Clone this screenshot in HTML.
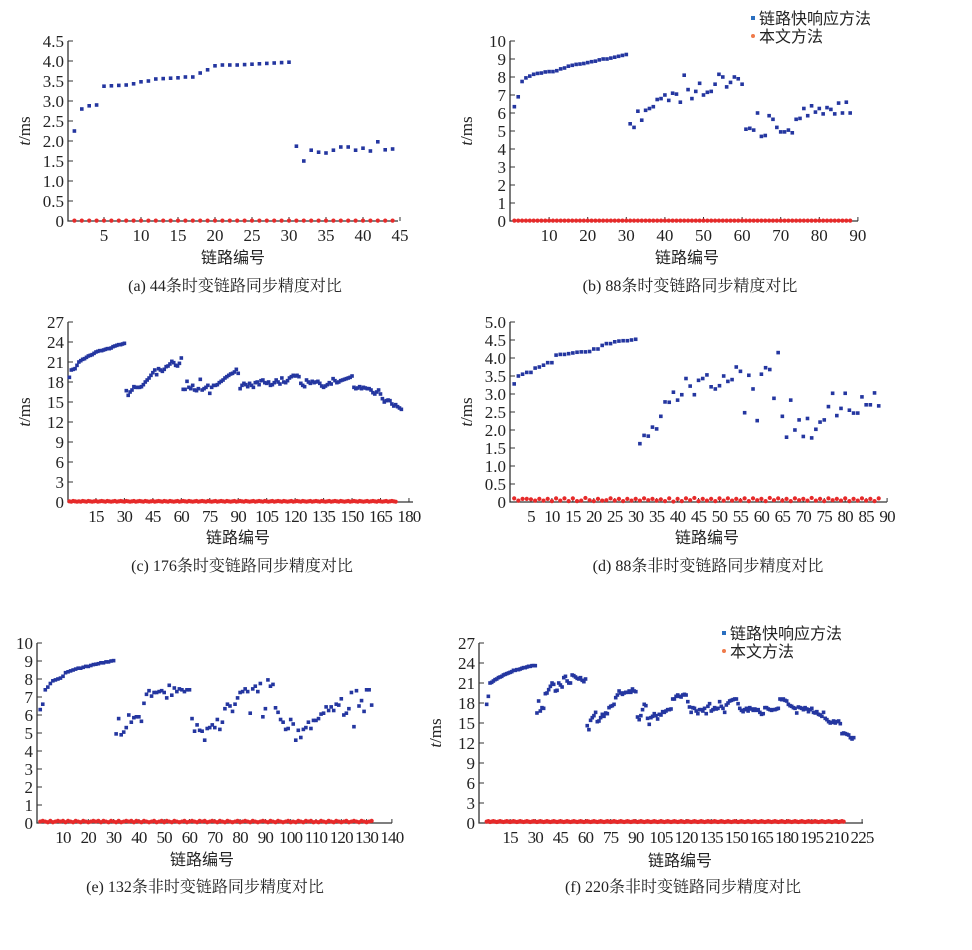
<!DOCTYPE html>
<html><head><meta charset="utf-8">
<style>
html,body{margin:0;padding:0;background:#fff;}
svg{display:block;}
.num{font-family:"Liberation Serif",serif;font-size:17px;fill:#222;}
.tight{letter-spacing:-0.8px;}
.zh{font-family:"Liberation Sans","Noto Sans CJK SC",sans-serif;font-size:16px;fill:#222;}
.cap{font-family:"Liberation Serif","Noto Serif CJK SC",serif;font-size:16px;fill:#222;}
</style></head>
<body>
<svg id="fig" width="972" height="950" viewBox="0 0 972 950" xmlns="http://www.w3.org/2000/svg"></svg>
<script>
// ---- data ----
const blueA=[2.25,2.8,2.88,2.9,3.37,3.38,3.39,3.4,3.43,3.48,3.5,3.55,3.56,3.57,3.58,3.6,3.6,3.7,3.78,3.88,3.9,3.9,3.9,3.91,3.92,3.93,3.94,3.95,3.96,3.97,1.87,1.5,1.77,1.72,1.7,1.77,1.85,1.85,1.77,1.82,1.75,1.98,1.78,1.8];
const redA="11111111111111111111111111111111111111111111";
const blueB=[6.35,6.9,7.75,7.95,8.05,8.15,8.2,8.22,8.28,8.3,8.3,8.35,8.45,8.5,8.6,8.65,8.7,8.72,8.75,8.8,8.85,8.88,8.95,9.0,9.0,9.05,9.1,9.15,9.2,9.25,5.4,5.2,6.1,5.6,6.15,6.25,6.35,6.75,6.8,7.0,6.7,7.1,7.05,6.6,8.1,7.3,6.8,7.2,7.65,7.0,7.15,7.2,7.6,8.15,8.0,7.45,7.7,8.0,7.9,7.6,5.1,5.15,5.05,6.0,4.7,4.75,5.85,5.65,5.2,4.95,4.95,5.05,4.9,5.65,5.7,6.25,5.85,6.4,6.05,6.25,5.95,6.3,6.2,5.95,6.55,6.0,6.6,6.0];
const redB="1111111111111111111111111111111111111111111111111111111111111111111111111111111111111111";
const blueC=[18.7,19.8,19.9,20.0,20.5,21.0,21.2,21.4,21.5,21.7,21.9,22.0,22.1,22.3,22.5,22.6,22.7,22.7,22.8,22.9,23.0,23.0,23.1,23.3,23.4,23.5,23.6,23.6,23.7,23.8,
16.7,16.0,16.5,16.8,17.3,17.2,17.2,17.2,17.3,17.6,18.0,18.3,18.6,19.0,19.4,19.8,19.1,20.0,19.8,19.6,19.9,20.3,20.4,20.7,21.1,20.9,20.5,20.4,20.8,21.6,
16.9,16.9,18.1,17.2,17.0,17.5,16.8,16.7,17.0,18.4,16.8,17.0,17.2,17.5,16.3,17.2,17.5,17.5,17.6,17.9,18.1,18.3,18.6,18.8,19.0,19.2,19.3,19.5,19.9,19.3,
17.0,17.5,17.8,17.6,17.3,17.8,17.5,17.2,17.9,18.0,17.6,18.2,18.3,17.9,17.8,18.0,17.5,17.6,17.9,18.3,18.0,17.7,18.6,18.0,17.9,18.2,18.6,18.8,19.0,18.9,
19.0,18.8,17.8,17.5,17.3,18.3,18.0,17.8,18.1,17.9,18.0,18.1,17.8,17.4,17.2,17.4,17.6,17.9,17.7,18.5,18.2,17.9,18.0,18.2,18.3,18.4,18.5,18.6,18.7,18.9,
17.2,17.0,17.1,17.3,17.0,17.2,17.1,17.0,17.0,16.8,16.4,16.2,16.5,16.8,16.2,15.5,15.0,15.2,15.3,15.2,14.7,14.4,14.6,14.3,14.1,13.9];
const redC="21321213213212312321321231232132123123213212312321321321231232132123123213212312321321231232132123123213212312321321231232132123123213212312321321231232132123123213212312321";
const blueD=[3.28,3.5,3.55,3.6,3.6,3.72,3.75,3.8,3.87,3.87,4.08,4.1,4.1,4.12,4.14,4.16,4.17,4.17,4.18,4.25,4.25,4.35,4.4,4.4,4.45,4.47,4.48,4.48,4.5,4.52,
1.62,1.85,1.83,2.08,2.03,2.38,2.78,2.77,3.05,2.83,2.98,3.43,3.22,2.98,3.38,3.43,3.53,3.2,3.14,3.23,3.5,3.35,3.4,3.75,3.63,2.48,3.52,3.14,2.26,3.55,3.73,3.68,2.88,4.15,2.38,1.8,2.83,2.0,2.28,1.82,2.32,1.78,2.02,2.22,2.28,2.65,3.02,2.4,2.6,3.02,2.55,2.47,2.47,2.92,2.7,2.7,3.03,2.67];
const redD="8377637372838282394273483727373847362817284927372838373828472948372847393728473827383728";
const blueE=[6.3,6.6,7.4,7.55,7.75,7.9,7.95,8.0,8.05,8.15,8.35,8.4,8.45,8.5,8.55,8.6,8.6,8.65,8.7,8.7,8.75,8.8,8.82,8.85,8.9,8.9,8.95,8.95,9.0,9.02,
4.95,5.8,4.9,5.05,5.3,6.0,5.6,5.85,5.9,5.9,5.65,6.65,7.15,7.35,7.05,7.25,7.25,7.3,7.35,7.25,6.95,7.65,7.1,7.5,7.3,7.45,7.4,7.3,7.4,7.4,
5.8,5.1,5.45,5.15,5.1,4.6,5.25,5.3,5.45,5.3,5.75,5.2,5.6,6.35,6.6,6.5,6.2,6.6,6.95,7.25,7.3,7.45,7.3,6.1,7.45,7.6,7.3,7.75,5.9,6.35,7.95,7.6,7.7,
6.4,6.15,5.75,5.6,5.2,5.25,5.75,5.5,4.6,5.15,4.75,5.2,5.3,5.6,5.25,5.7,5.7,5.8,6.05,6.1,6.45,6.25,6.45,6.25,6.6,6.55,6.9,6.0,6.1,6.35,7.25,5.35,7.35,6.5,6.8,6.2,7.4,7.4,6.55];
const redE="232131232313213213212323132132131232313213212312313213212312321323123213213212312321321232132132123121321323121321321321231232132123";
const blueF=[17.8,19.0,21.0,21.1,21.3,21.5,21.6,21.8,21.9,22.0,22.2,22.3,22.4,22.5,22.6,22.7,22.9,22.9,23.0,23.0,23.1,23.2,23.3,23.3,23.4,23.5,23.5,23.6,23.6,23.6,
16.5,18.3,16.8,17.3,17.2,19.4,19.5,20.0,20.5,21.0,20.8,19.8,19.9,21.0,20.7,20.4,21.8,22.0,21.3,21.0,21.0,22.2,22.1,21.9,21.7,21.6,21.8,21.4,21.2,21.6,
14.6,14.0,15.4,15.8,16.1,16.6,15.2,15.3,15.8,16.3,16.0,16.5,16.4,17.3,17.5,17.6,17.8,18.8,19.2,19.8,19.5,19.3,19.5,19.6,19.6,19.8,19.6,20.1,19.8,19.7,
15.9,15.5,16.1,17.0,17.8,17.6,15.7,14.8,15.8,16.0,16.4,16.1,15.6,16.3,16.2,16.7,16.6,16.8,17.0,17.0,17.1,18.6,18.6,19.0,19.2,19.0,18.9,19.2,19.3,19.2,
18.2,17.4,16.6,17.3,17.2,16.8,16.4,17.0,17.0,16.8,17.2,16.4,17.5,17.9,16.8,17.0,17.3,17.1,17.2,18.2,17.5,17.2,16.6,17.7,18.0,18.3,18.4,18.5,18.6,18.6,
17.9,17.2,16.9,16.7,17.0,17.2,16.8,17.3,17.1,16.9,17.1,16.9,17.0,16.6,16.3,16.4,17.3,17.3,17.1,17.0,16.9,17.0,17.0,17.1,17.2,18.6,18.5,18.6,18.4,18.3,
17.8,17.6,17.5,17.3,17.2,16.5,17.4,17.3,17.2,17.0,17.3,17.1,16.7,17.0,17.2,16.6,16.5,16.7,16.3,16.2,16.0,16.6,15.7,15.5,15.2,15.0,15.1,15.3,15.0,15.2,15.3,14.9,13.4,13.5,13.4,13.3,13.2,12.8,12.6,12.8];
const redF="3423432343234323432343234323432343234323432343234323432343234323432343234323432343234323432343234323432343234323432343234323432343234323432343234323432343234323432343234323432343234323432343234323432343234323432343";
// ticks
const yTicksA=["0","0.5","1.0","1.5","2.0","2.5","3.0","3.5","4.0","4.5"];
const yTicksB=["0","1","2","3","4","5","6","7","8","9","10"];
const yTicksC=["0","3","6","9","12","15","18","21","24","27"];
const yTicksD=["0","0.5","1.0","1.5","2.0","2.5","3.0","3.5","4.0","4.5","5.0"];
const xTicksA=[5,10,15,20,25,30,35,40,45];
const xTicksB=[10,20,30,40,50,60,70,80,90];
const xTicksC=[15,30,45,60,75,90,105,120,135,150,165,180];
const xTicksD=[5,10,15,20,25,30,35,40,45,50,55,60,65,70,75,80,85,90];
const xTicksE=[10,20,30,40,50,60,70,80,90,100,110,120,130,140];
const xTicksF=[15,30,45,60,75,90,105,120,135,150,165,180,195,210,225];

const NS="http://www.w3.org/2000/svg";
const svg=document.getElementById('fig');
function mk(tag,attrs,parent){const e=document.createElementNS(NS,tag);for(const k in attrs)e.setAttribute(k,attrs[k]);(parent||svg).appendChild(e);return e;}

function panel(p){
  const g=mk('g',{});
  
  
  const ymax=parseFloat(p.yt[p.yt.length-1]);
  const X=v=>p.x0+v*p.xs;
  const Y=v=>p.y0-(v/ymax)*(p.y0-p.top);
  const ax=mk('path',{d:`M${p.ax},${p.top} V${p.y0} H${p.end}`,stroke:'#333','stroke-width':1.3,fill:'none'},g);
  
  
  p.yt.forEach(t=>{const yy=Y(parseFloat(t));
    mk('line',{x1:p.ax,x2:p.ax+5,y1:yy,y2:yy,stroke:'#333','stroke-width':1},g);
    const tx=mk('text',{x:p.ax-4,y:yy+6,'text-anchor':'end',class:'num'},g);tx.textContent=t;
    
    
  });
  p.xt.forEach(t=>{const xx=X(t);
    mk('line',{x1:xx,x2:xx,y1:p.y0,y2:p.y0-4,stroke:'#333','stroke-width':1},g);
    const tx=mk('text',{x:xx,y:p.y0+20,'text-anchor':'middle',class:'num'+(p.tight?' tight':'')},g);tx.textContent=t;
    
    
  });
  p.red.split('').forEach((d,i)=>{
    const c=mk('circle',{cx:X(i+1),cy:Y(d*p.rs),r:2.1,fill:'#e62a2a'},g);
    
    
  });
  p.blue.forEach((v,i)=>{
    const r=mk('rect',{x:X(i+1)-1.8,y:Y(v)-1.8,width:3.6,height:3.6,fill:'#2436a0'},g);
    
    
  });
  if(p.ytitle){
    const t=mk('text',{x:p.ytx,y:(p.top+p.y0)/2,transform:`rotate(-90 ${p.ytx} ${(p.top+p.y0)/2})`,'text-anchor':'middle',class:'num'},g);
    t.innerHTML='<tspan font-style="italic">t</tspan>/ms';
    
    
  }
  const xt=mk('text',{x:p.xtx,y:p.xty,'text-anchor':'middle',class:'zh'},g);xt.textContent='链路编号';
  
  
  const cp=mk('text',{x:p.cx,y:p.cy,'text-anchor':'middle',class:'cap'},g);cp.textContent=p.cap;
  
  
  if(p.leg){
    const [lx,ly]=p.leg;
    const lg=mk('g',{},g);
    
    
    mk('rect',{x:lx-2,y:ly-2,width:4,height:4,fill:'#2a6fc0'},lg);
    mk('circle',{cx:lx,cy:ly+18,r:2,fill:'#ef7a4a'},lg);
    const t1=mk('text',{x:lx+6,y:ly+6,class:'zh'},lg);t1.textContent='链路快响应方法';
    
    
    const t2=mk('text',{x:lx+6,y:ly+24,class:'zh'},lg);t2.textContent='本文方法';
    
    
  }
}
panel({id:'a',ax:68,x0:67,xs:7.4,y0:221,top:41,end:398,yt:yTicksA,xt:xTicksA,blue:blueA,red:redA,rs:0.01,ytitle:1,ytx:30,xtx:233,xty:263,cx:235,cy:291,cap:'(a) 44条时变链路同步精度对比'});
panel({id:'b',ax:510,x0:510.5,xs:3.86,y0:221,top:41,end:858,yt:yTicksB,xt:xTicksB,blue:blueB,red:redB,rs:0.02,ytitle:1,ytx:472,xtx:687,xty:263,cx:690,cy:291,cap:'(b) 88条时变链路同步精度对比',leg:[753,18]});
panel({id:'c',ax:68,x0:67.5,xs:1.897,y0:502,top:322,end:413,yt:yTicksC,xt:xTicksC,blue:blueC,red:redC,rs:0.05,ytitle:1,ytx:30,xtx:238,xty:543,cx:242,cy:571,cap:'(c) 176条时变链路同步精度对比',tight:1});
panel({id:'d',ax:510,x0:510,xs:4.19,y0:502,top:322,end:887,yt:yTicksD,xt:xTicksD,blue:blueD,red:redD,rs:0.0125,ytitle:1,ytx:472,xtx:707,xty:543,cx:708,cy:571,cap:'(d) 88条非时变链路同步精度对比',tight:1});
panel({id:'e',ax:37,x0:37.7,xs:2.53,y0:823,top:643,end:392,yt:yTicksB,xt:xTicksE,blue:blueE,red:redE,rs:0.04,ytitle:0,xtx:202,xty:865,cx:205,cy:892,cap:'(e) 132条非时变链路同步精度对比',tight:1});
panel({id:'f',ax:479,x0:485,xs:1.676,y0:823,top:643,end:863,yt:yTicksC,xt:xTicksF,blue:blueF,red:redF,rs:0.07,ytitle:1,ytx:441,xtx:680,xty:866,cx:683,cy:892,cap:'(f) 220条非时变链路同步精度对比',leg:[724,633],tight:1});
</script>
</body></html>
